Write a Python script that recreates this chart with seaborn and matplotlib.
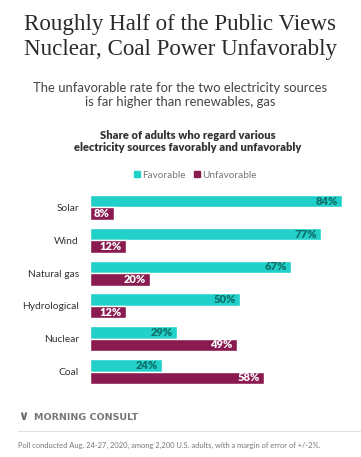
import matplotlib
matplotlib.use("Agg")
import matplotlib.pyplot as plt
import seaborn as sns
import pandas as pd
from matplotlib.lines import Line2D

sources = ["Solar", "Wind", "Natural gas", "Hydrological", "Nuclear", "Coal"]
favorable = [84, 77, 67, 50, 29, 24]
unfavorable = [8, 12, 20, 12, 49, 58]
series = ["Favorable", "Unfavorable"]
colors = ["#21d0c8", "#8a1b50"]
label_colors = ["#0f6f6a", "#ffffff"]

df = pd.DataFrame({
    "source": sources * 2,
    "type": [series[0]] * len(sources) + [series[1]] * len(sources),
    "value": favorable + unfavorable,
})

sns.set_theme(style="white")
plt.rcParams["font.family"] = ["Lato", "DejaVu Sans"]

W, H = 361, 457
fig = plt.figure(figsize=(W / 100, H / 100), dpi=100)
fig.patch.set_facecolor("white")

def fy(px):
    return 1 - px / H

def fx(px):
    return px / W

ax = fig.add_axes([fx(90), fy(388), fx(360) - fx(90), fy(191) - fy(388)])
sns.barplot(data=df, y="source", x="value", hue="type", orient="h",
            palette=colors, width=0.76, ax=ax, legend=False, saturation=1)
ax.set_xlim(0, 90)
ax.set_ylim(5.5, -0.5)
ax.set_xlabel("")
ax.set_ylabel("")
ax.set_xticks([])
for s in ax.spines.values():
    s.set_visible(False)
ax.tick_params(axis="y", length=0, pad=8, labelsize=7.4, labelcolor="#333333")

for cont, lc in zip(ax.containers, label_colors):
    for bar in cont:
        w = bar.get_width()
        ax.annotate(f"{w:.0f}%", (w, bar.get_y() + bar.get_height() / 2),
                    xytext=(-3, 0), textcoords="offset points",
                    ha="right", va="center", fontsize=8, fontweight="heavy",
                    color=lc)

# Titles
fig.text(0.5, fy(37), "Roughly Half of the Public Views\nNuclear, Coal Power Unfavorably",
         ha="center", va="center", fontsize=16.6, family=["Liberation Serif"],
         color="#2a2a2a", linespacing=1.3)
fig.text(0.5, fy(95), "The unfavorable rate for the two electricity sources\nis far higher than renewables, gas",
         ha="center", va="center", fontsize=9.4, color="#444444", linespacing=1.2)
fig.text(0.52, fy(141.5), "Share of adults who regard various\nelectricity sources favorably and unfavorably",
         ha="center", va="center", fontsize=8.0, fontweight="heavy", color="#333333",
         linespacing=1.15)

# Legend
handles = [Line2D([0], [0], marker="s", linestyle="", markersize=4.5,
                  markerfacecolor=c, markeredgecolor=c) for c in colors]
fig.legend(handles, series, loc="center", bbox_to_anchor=(fx(194), fy(175)),
           ncol=2, frameon=False, fontsize=7.2, handletextpad=0.05,
           columnspacing=0.6, handlelength=1.0, labelcolor="#777777")

# Footer
fig.text(fx(18), fy(417), "\u2228", ha="left", va="center", fontsize=9,
         color="#666666", fontweight="bold", family=["DejaVu Sans"])
fig.text(fx(34), fy(417), "MORNING CONSULT", ha="left", va="center", fontsize=6.8,
         color="#777777", fontweight="bold", family=["DejaVu Sans"])
fig.add_artist(Line2D([fx(18), 1.0], [fy(431), fy(431)], color="#e2e2e2", lw=0.8))
fig.text(fx(18), fy(445),
         "Poll conducted Aug. 24-27, 2020, among 2,200 U.S. adults, with a margin of error of +/-2%.",
         ha="left", va="center", fontsize=5.4, color="#777777")

fig.savefig("out.png", dpi=100, facecolor="white")
